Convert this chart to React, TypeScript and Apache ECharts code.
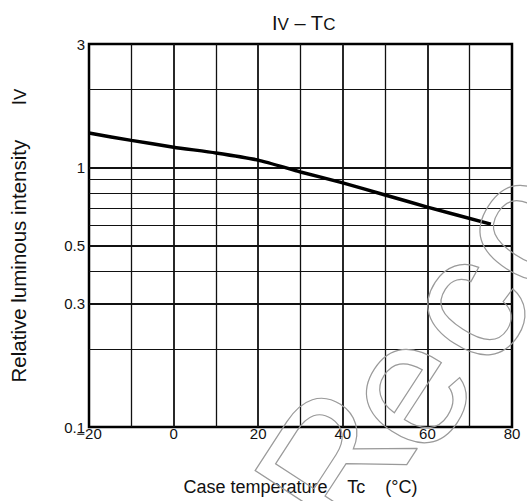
import React, { useEffect, useRef } from "react";
import * as echarts from "echarts";

// ---- data ----
const tempC = [-20, -10, 0, 10, 20, 30, 40, 50, 60, 75];
const relIv = [1.36, 1.275, 1.2, 1.14, 1.07, 0.963, 0.874, 0.785, 0.705, 0.606];

const xGrid = [-10, 0, 10, 20, 30, 40, 50, 60, 70];
const xMajor = [0, 20, 40, 60];
const yGrid = [0.2, 0.3, 0.4, 0.5, 0.6, 0.7, 0.8, 0.9, 1, 2];
const yMajor = [0.3, 0.5, 1];
const yLabels = [0.1, 0.3, 0.5, 1, 3];
const xLabelStep = 20;

const watermarkLetters = ["R", "e", "c", "o"];

const FONT = "Liberation Sans, Arial, Helvetica, sans-serif";

export default function App() {
  const ref = useRef<HTMLDivElement>(null);

  useEffect(() => {
    if (!ref.current) return;
    const chart = echarts.init(ref.current, undefined, { renderer: "svg" });

    const gridLineData: any[] = [
      ...xGrid.map((v) => ({
        xAxis: v,
        lineStyle: { width: xMajor.includes(v) ? 1.8 : 1.3, color: "#111", type: "solid" },
      })),
      ...yGrid.map((v) => ({
        yAxis: v,
        lineStyle: { width: yMajor.includes(v) ? 2 : 1.2, color: "#111", type: "solid" },
      })),
    ];

    const wmPos = [
      [334, 462],
      [403, 388],
      [462, 304],
      [517, 225],
    ];

    const option: any = {
      animation: false,
      backgroundColor: "#fff",
      title: {
        text: "{a|I}{s|V}{a| – T}{s|C}",
        left: 267,
        top: 5,
        textStyle: {
          fontWeight: "normal",
          rich: {
            a: { fontFamily: FONT, fontSize: 20, fontWeight: "normal", color: "#111", lineHeight: 23, verticalAlign: "bottom" },
            s: { fontFamily: FONT, fontSize: 17, fontWeight: "normal", color: "#111", lineHeight: 20, verticalAlign: "bottom" },
          },
        },
      },
      grid: {
        left: 88,
        top: 44,
        width: 424,
        height: 384,
        show: true,
        borderWidth: 2.5,
        borderColor: "#000",
        backgroundColor: "transparent",
      },
      xAxis: {
        type: "value",
        min: -20,
        max: 80,
        interval: 10,
        name: "Case temperature    Tc    (°C)",
        nameLocation: "middle",
        nameGap: 51,
        nameTextStyle: { fontFamily: FONT, fontSize: 18, color: "#111" },
        axisLine: { show: false },
        axisTick: { show: false },
        splitLine: { show: false },
        axisLabel: {
          margin: -1,
          fontFamily: FONT,
          fontSize: 15,
          color: "#111",
          formatter: (v: number) =>
            v % xLabelStep === 0 ? (v < 0 ? "\u2212" + Math.abs(v) : String(v)) : "",
        },
      },
      yAxis: {
        type: "log",
        logBase: 10,
        min: 0.1,
        max: 3,
        name: "{a|Relative luminous intensity      I}{s|V}",
        nameLocation: "middle",
        nameRotate: 90,
        nameGap: 60,
        nameTextStyle: {
          rich: {
            a: { fontFamily: FONT, fontSize: 20.5, color: "#111", lineHeight: 23, verticalAlign: "bottom" },
            s: { fontFamily: FONT, fontSize: 17, color: "#111", lineHeight: 20, verticalAlign: "bottom" },
          },
        },
        axisLine: { show: false },
        axisTick: { show: false },
        splitLine: { show: false },
        minorSplitLine: { show: false },
        axisLabel: {
          customValues: yLabels,
          margin: 4,
          fontFamily: FONT,
          fontSize: 15,
          color: "#111",
          formatter: (v: number) => String(+Number(v).toPrecision(3)),
        },
      },
      graphic: watermarkLetters.map((ch, i) => ({
        type: "text",
        x: wmPos[i][0],
        y: wmPos[i][1],
        rotation: (57 * Math.PI) / 180,
        silent: true,
        z: 100,
        style: {
          text: ch,
          fontFamily: FONT,
          fontSize: 180,
          fill: "none",
          stroke: "#9a9a9a",
          lineWidth: 1.2,
          align: "center",
          verticalAlign: "middle",
        },
      })),
      series: [
        {
          type: "line",
          data: [],
          z: 1,
          silent: true,
          markLine: {
            silent: true,
            symbol: ["none", "none"],
            label: { show: false },
            animation: false,
            data: gridLineData,
          },
        },
        {
          type: "line",
          z: 5,
          silent: true,
          showSymbol: false,
          symbol: "none",
          smooth: 0.2,
          lineStyle: { color: "#000", width: 3.5 },
          data: tempC.map((t, i) => [t, relIv[i]]),
        },
      ],
    };

    chart.setOption(option);
    return () => chart.dispose();
  }, []);

  return (
    <div
      ref={ref}
      style={{ position: "fixed", left: 0, top: 0, width: 527, height: 501, background: "#fff" }}
    />
  );
}
